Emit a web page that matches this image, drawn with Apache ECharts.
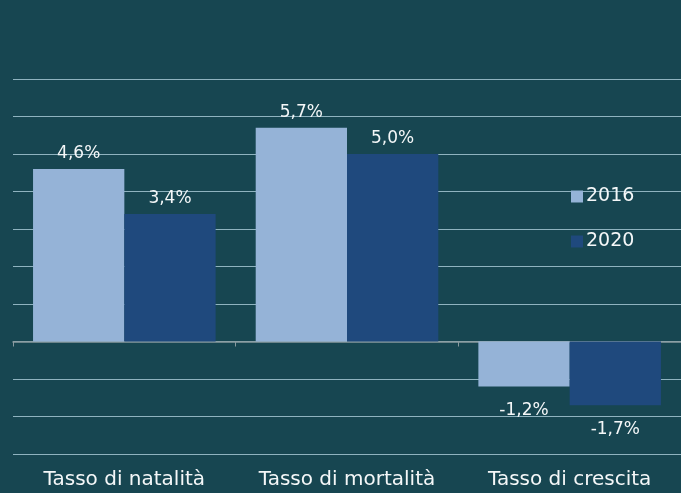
<!DOCTYPE html>
<html>
<head>
<meta charset="utf-8">
<script src="https://cdn.jsdelivr.net/npm/echarts@6/dist/echarts.min.js"></script>
<style>
  html, body { margin: 0; padding: 0; background: #174651; }
  #chart { width: 681px; height: 493px; }
</style>
</head>
<body>
<div id="chart"></div>
<script>
// dati
var categories = ['Tasso di natalità', 'Tasso di mortalità', 'Tasso di crescita'];
var seriesNames = ['2016', '2020'];
var values2016 = [4.6, 5.7, -1.2];
var values2020 = [3.4, 5.0, -1.7];

var colors = ['#95b3d7', '#1f497d'];
var textColor = '#f4f7f8';
var fontName = 'DejaVu Sans';
var fontW = 'normal';

function fmt(v) {
    return v.toFixed(1).replace('.', ',') + '%';
}

// le barre negative hanno l'etichetta sotto
function toItems(arr) {
    return arr.map(function (v) {
        return v < 0 ? { value: v, label: { position: 'bottom', distance: 16 } } : v;
    });
}

function makeSeries(name, data, idx) {
    return {
        name: name,
        type: 'bar',
        data: toItems(data),
        barGap: '0%',
        barCategoryGap: '18%',
        itemStyle: { color: colors[idx] },
        label: {
            show: true,
            position: 'top',
            distance: 7,
            color: textColor,
            fontFamily: fontName,
            fontWeight: fontW,
            fontSize: 17,
            formatter: function (p) { return fmt(p.value); }
        }
    };
}

var chart = echarts.init(document.getElementById('chart'));
chart.setOption({
    backgroundColor: '#174651',
    animation: false,
    textStyle: { fontFamily: fontName, fontWeight: fontW },
    grid: { left: 13, right: 0, top: 79, bottom: 39, containLabel: false },
    legend: {
        orient: 'vertical',
        left: 566,
        top: 182,
        itemWidth: 12,
        itemHeight: 12,
        itemGap: 26,
        icon: 'rect',
        data: seriesNames,
        textStyle: { color: textColor, fontSize: 19, fontFamily: fontName, fontWeight: fontW, padding: [0, 0, 0, -2] }
    },
    xAxis: [{
        type: 'category',
        data: categories,
        axisLine: { onZero: true, lineStyle: { color: '#8a9a9f', width: 1.5 } },
        axisTick: { show: true, length: 5, lineStyle: { color: '#8a9a9f' } },
        axisLabel: { show: false },
        splitLine: { show: false }
    }, {
        type: 'category',
        data: categories,
        position: 'bottom',
        axisLine: { show: false },
        axisTick: { show: false },
        axisLabel: { interval: 0, color: textColor, fontSize: 20, fontFamily: fontName, fontWeight: fontW, margin: 16 }
    }],
    yAxis: {
        type: 'value',
        min: -3,
        max: 7,
        interval: 1,
        axisLabel: { show: false },
        axisLine: { show: false },
        axisTick: { show: false },
        splitLine: { lineStyle: { color: '#8fb3bf', width: 1 } }
    },
    series: [
        makeSeries(seriesNames[0], values2016, 0),
        makeSeries(seriesNames[1], values2020, 1)
    ]
});
</script>
</body>
</html>
